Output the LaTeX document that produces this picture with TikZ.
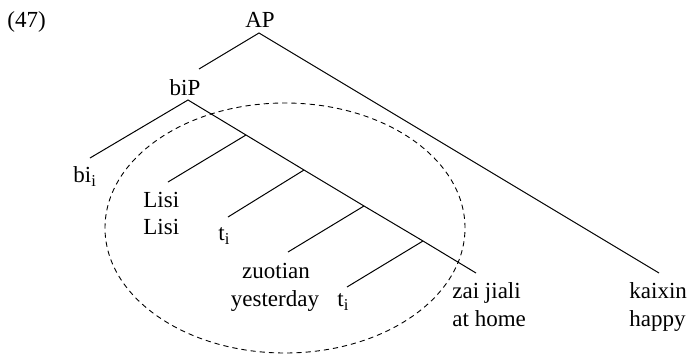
\documentclass[tikz,border=0pt]{standalone}
\usepackage{fontspec}
\setmainfont{Liberation Serif}
\usetikzlibrary{shapes.geometric}
% lowered index letter
\newcommand\idxsub[1]{\raisebox{-0.45ex}{\fontsize{8.3}{9}\selectfont #1}}
\begin{document}
\begin{tikzpicture}[x=0.5pt,y=-0.5pt,
  word/.style={inner sep=0pt,font=\fontsize{11.5}{14}\selectfont},
  branch/.style={line width=0.5pt},
  dashring/.style={line width=0.45pt,dash pattern=on 2.6pt off 2pt}]
\useasboundingbox (0,0) rectangle (691,354);

% labels
\node[word,anchor=base west] (ex) at (7,27) {(47)};
\node[word,anchor=base] (ap) at (260,27) {AP};
\node[word,anchor=base] (bip) at (185,95) {biP};
\node[word,anchor=base west] (bi) at (73,182) {bi\idxsub{i}};
\node[word,anchor=base west] (lisi) at (143,207) {Lisi};
\node[word,anchor=base west] (lisigl) at (143,234) {Lisi};
\node[word,anchor=base west] (ta) at (218,240) {t\idxsub{i}};
\node[word,anchor=base] (zuotian) at (276,278) {zuotian};
\node[word,anchor=base] (yesterday) at (275,306) {yesterday};
\node[word,anchor=base west] (tb) at (337,306) {t\idxsub{i}};
\node[word,anchor=base west] (zai) at (452,298) {zai jiali};
\node[word,anchor=base west] (athome) at (452,326) {at home};
\node[word,anchor=base west] (kaixin) at (629,298) {kaixin};
\node[word,anchor=base west] (happy) at (629,326) {happy};

% branch end points
\coordinate (apTop) at (259,33);
\coordinate (apL) at (199,69);
\coordinate (apR) at (659,273);
\coordinate (bipTop) at (188,100);
\coordinate (biEnd) at (90,158);
\coordinate (spineEnd) at (476,273);
\coordinate (j1) at (246,135);
\coordinate (j2) at (304,170);
\coordinate (j3) at (364,206);
\coordinate (j4) at (423,241);
\coordinate (lisiEnd) at (168,182);
\coordinate (taEnd) at (228,217);
\coordinate (zuoEnd) at (288,252);
\coordinate (tbEnd) at (347,287);

% tree
\draw[branch] (apL) -- (apTop) -- (apR);
\draw[branch] (biEnd) -- (bipTop) -- (j1) -- (j2) -- (j3) -- (j4) -- (spineEnd);
\draw[branch] (j1) -- (lisiEnd);
\draw[branch] (j2) -- (taEnd);
\draw[branch] (j3) -- (zuoEnd);
\draw[branch] (j4) -- (tbEnd);

% dashed domain
\node[draw,dashring,ellipse,minimum width=180pt,minimum height=125pt,inner sep=0pt] (dom) at (285,228) {};
\end{tikzpicture}
\end{document}
